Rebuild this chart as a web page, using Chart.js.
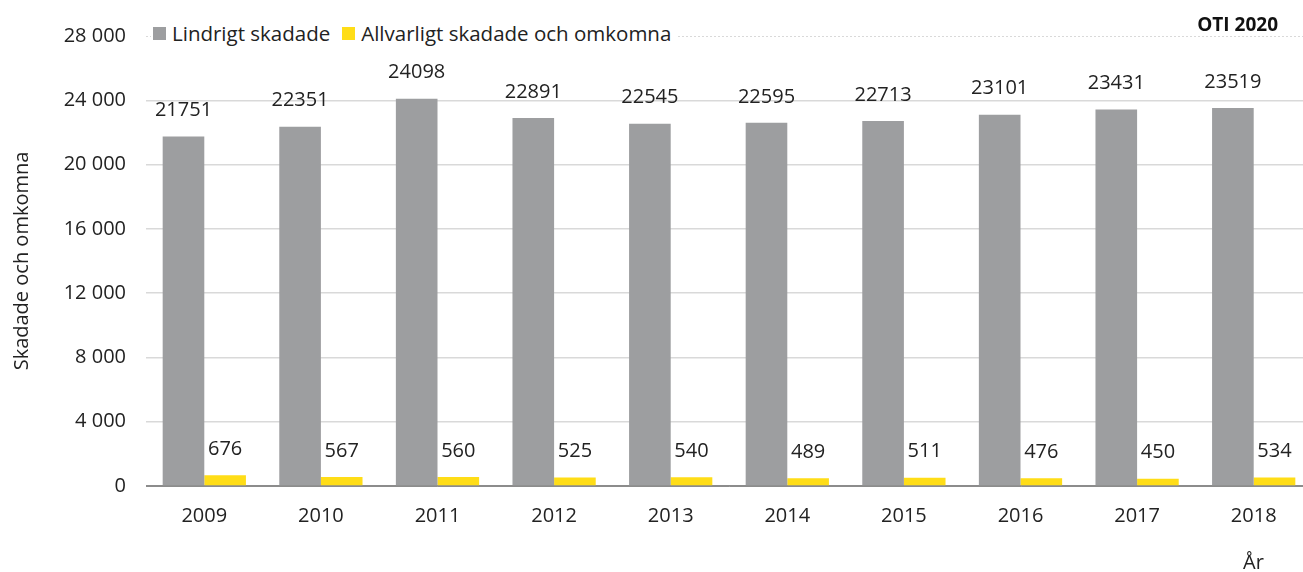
<!DOCTYPE html>
<html><head><meta charset="utf-8">
<script src="https://cdn.jsdelivr.net/npm/chart.js@4"></script>
<style>
html,body{margin:0;padding:0;background:#fff;overflow:hidden;}
#wrap{position:relative;width:1303px;height:572px;font-family:"Open Sans",sans-serif;color:#222;overflow:hidden;}
canvas{position:absolute;left:0;top:0;}
#legend{position:absolute;left:151px;top:19px;height:28px;line-height:28px;background:#fff;padding:0 5px 0 2px;font-size:20.5px;display:flex;align-items:center;white-space:nowrap;}
#legend span.sw{display:inline-block;width:13px;height:13px;margin-right:6px;}
#legend .it{display:flex;align-items:center;margin-right:12px;}
#legend .it:last-child{margin-right:0;}
#oti{position:absolute;right:25px;top:11px;font-size:19px;font-weight:bold;color:#111;line-height:26px;}
#ar{position:absolute;left:1243px;top:549px;font-size:20px;line-height:26px;}
</style></head>
<body><div id="wrap"><canvas id="c" width="1312" height="572"></canvas>
<div id="legend"></div><div id="oti">OTI 2020</div><div id="ar">År</div></div>
<script>
const years = ["2009","2010","2011","2012","2013","2014","2015","2016","2017","2018"];
const lindrigt = [21751,22351,24098,22891,22545,22595,22713,23101,23431,23519];
const allvarligt = [676,567,560,525,540,489,511,476,450,534];
const seriesNames = ["Lindrigt skadade","Allvarligt skadade och omkomna"];
const seriesColors = ["#9d9ea0","#ffdd17"];
const yTicks = [0,4000,8000,12000,16000,20000,24000,28000];

const leg = document.getElementById('legend');
seriesNames.forEach((n,i)=>{
  const d=document.createElement('div');d.className='it';
  d.innerHTML='<span class="sw" style="background:'+seriesColors[i]+'"></span>'+n;
  leg.appendChild(d);
});

const FONT = "'Open Sans', sans-serif";
const labelPlugin = {
  id:'vals',
  afterDatasetsDraw(chart){
    const ctx=chart.ctx;
    ctx.save();
    ctx.font="20px "+FONT;
    ctx.fillStyle="#222";
    ctx.textAlign="center";
    ctx.textBaseline="middle";
    chart.data.datasets.forEach((ds,di)=>{
      const meta=chart.getDatasetMeta(di);
      meta.data.forEach((el,i)=>{
        ctx.fillText(String(ds.data[i]), el.x, el.y-26);
      });
    });
    ctx.restore();
  }
};

new Chart(document.getElementById('c'),{
  type:'bar',
  data:{labels:years,datasets:[
    {label:seriesNames[0],data:lindrigt,backgroundColor:seriesColors[0]},
    {label:seriesNames[1],data:allvarligt,backgroundColor:seriesColors[1]}
  ]},
  options:{
    responsive:false,animation:false,
    layout:{padding:{left:0,right:0,top:36,bottom:0}},
    plugins:{legend:{display:false},tooltip:{enabled:false}},
    datasets:{bar:{categoryPercentage:0.714,barPercentage:1.0}},
    scales:{
      x:{
        grid:{display:false},
        border:{display:true,color:'#8c8c8c',width:1},
        ticks:{color:'#222',font:{size:20,family:FONT},padding:10},
        afterFit(s){s.height=86;}
      },
      y:{
        min:0,max:28000,
        afterBuildTicks(s){s.ticks=yTicks.map(v=>({value:v}));},
        ticks:{color:'#222',font:{size:20,family:FONT},padding:20,
          callback:v=>String(v).replace(/\B(?=(\d{3})+(?!\d))/g,' ')},
        grid:{color:c=>c.tick&&c.tick.value===0?'#8c8c8c':'#d9d9d9',lineWidth:c=>c.tick&&c.tick.value===28000?1:1.5,drawTicks:false},
        border:{display:false,dash:c=>c.tick&&c.tick.value===28000?[2,2]:[]},
        title:{display:true,text:'Skadade och omkomna',color:'#222',font:{size:20,family:FONT},padding:{top:10,bottom:0}},
        afterFit(s){s.width=146;}
      }
    }
  },
  plugins:[labelPlugin]
});
</script></body></html>
